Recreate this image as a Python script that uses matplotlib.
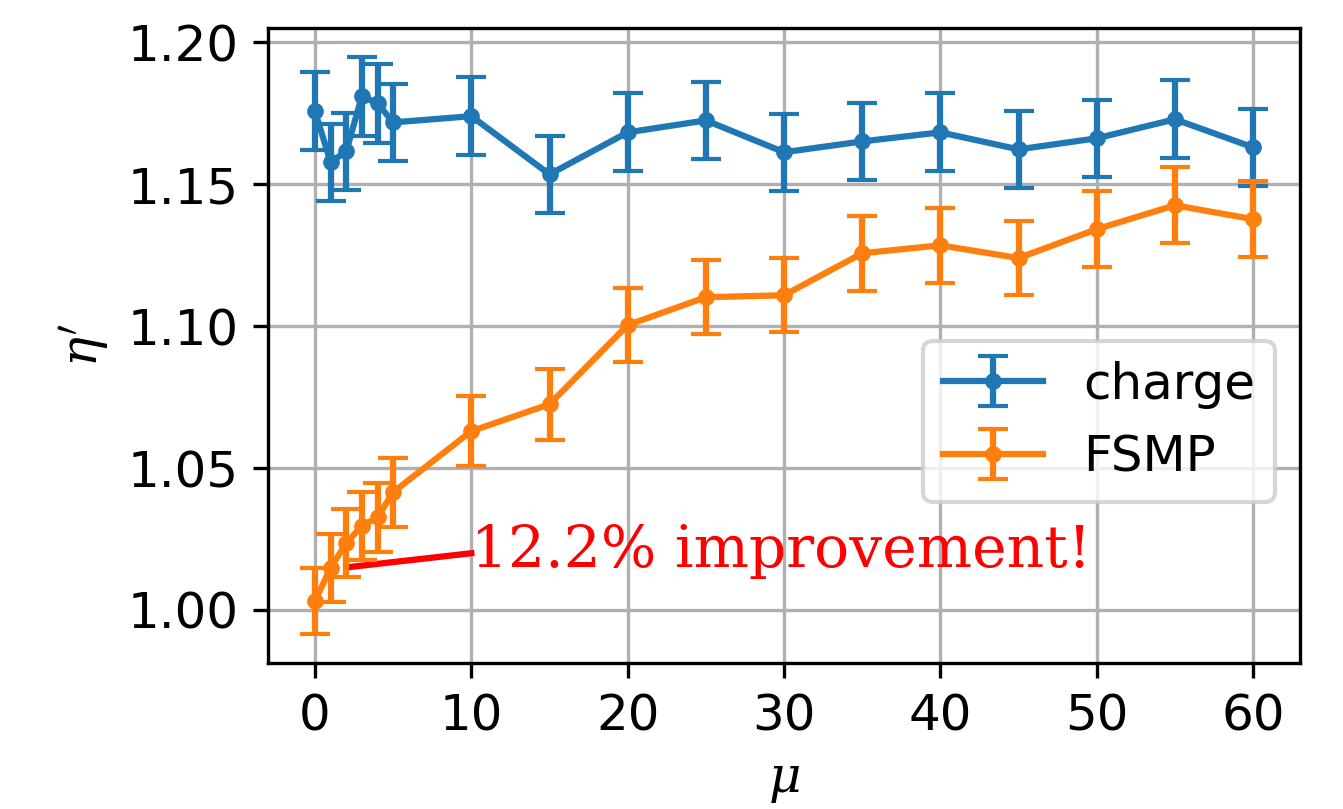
import numpy as np
import matplotlib
matplotlib.use('Agg')
import matplotlib.pyplot as plt

plt.rcParams['mathtext.fontset'] = 'dejavuserif'
plt.rcParams['font.size'] = 12

mu = [0, 1, 2, 3, 4, 5, 10, 15, 20, 25, 30, 35, 40, 45, 50, 55, 60]

# eta' для обычного заряда
charge = [1.1757, 1.1578, 1.1616, 1.1810, 1.1785, 1.1718, 1.1740, 1.1535, 1.1683,
          1.1725, 1.1613, 1.1651, 1.1683, 1.1623, 1.1662, 1.1729, 1.1630]
charge_err = [0.0137, 0.0136, 0.0136, 0.0139, 0.0138, 0.0137, 0.0137, 0.0135, 0.0137,
              0.0137, 0.0136, 0.0136, 0.0137, 0.0136, 0.0136, 0.0137, 0.0136]

# eta' для FSMP
fsmp = [1.0032, 1.0148, 1.0236, 1.0296, 1.0327, 1.0415, 1.0630, 1.0725, 1.1004,
        1.1102, 1.1109, 1.1257, 1.1285, 1.1240, 1.1342, 1.1426, 1.1377]
fsmp_err = [0.0117, 0.0119, 0.0120, 0.0120, 0.0121, 0.0122, 0.0124, 0.0125, 0.0129,
            0.0130, 0.0130, 0.0132, 0.0132, 0.0131, 0.0133, 0.0134, 0.0133]

note_x = [2, 10]
note_y = [1.015, 1.020]
note_text = '12.2% improvement!'

fig = plt.figure(figsize=(1343 / 300, 809 / 300), dpi=300)
ax = fig.add_axes([0.1996, 0.1805, 0.968 - 0.1996, 0.9654 - 0.1805])

ax.plot(note_x, note_y, color='red')
ax.errorbar(mu, charge, yerr=charge_err, fmt='.-', capsize=3.5, label='charge')
ax.errorbar(mu, fsmp, yerr=fsmp_err, fmt='.-', capsize=3.5, label='FSMP')
ax.text(note_x[1], note_y[0], note_text, color='red', family='DejaVu Serif', fontsize=14)

ax.set_xlabel(r'$\mu$')
ax.set_ylabel(r"$\eta'$")
ax.set_xticks(range(0, 61, 10))
ax.set_yticks([1.00, 1.05, 1.10, 1.15, 1.20])
ax.grid(True)
ax.legend(loc='center right', bbox_to_anchor=(1, 0.381))

plt.savefig('out.png', dpi=300)
